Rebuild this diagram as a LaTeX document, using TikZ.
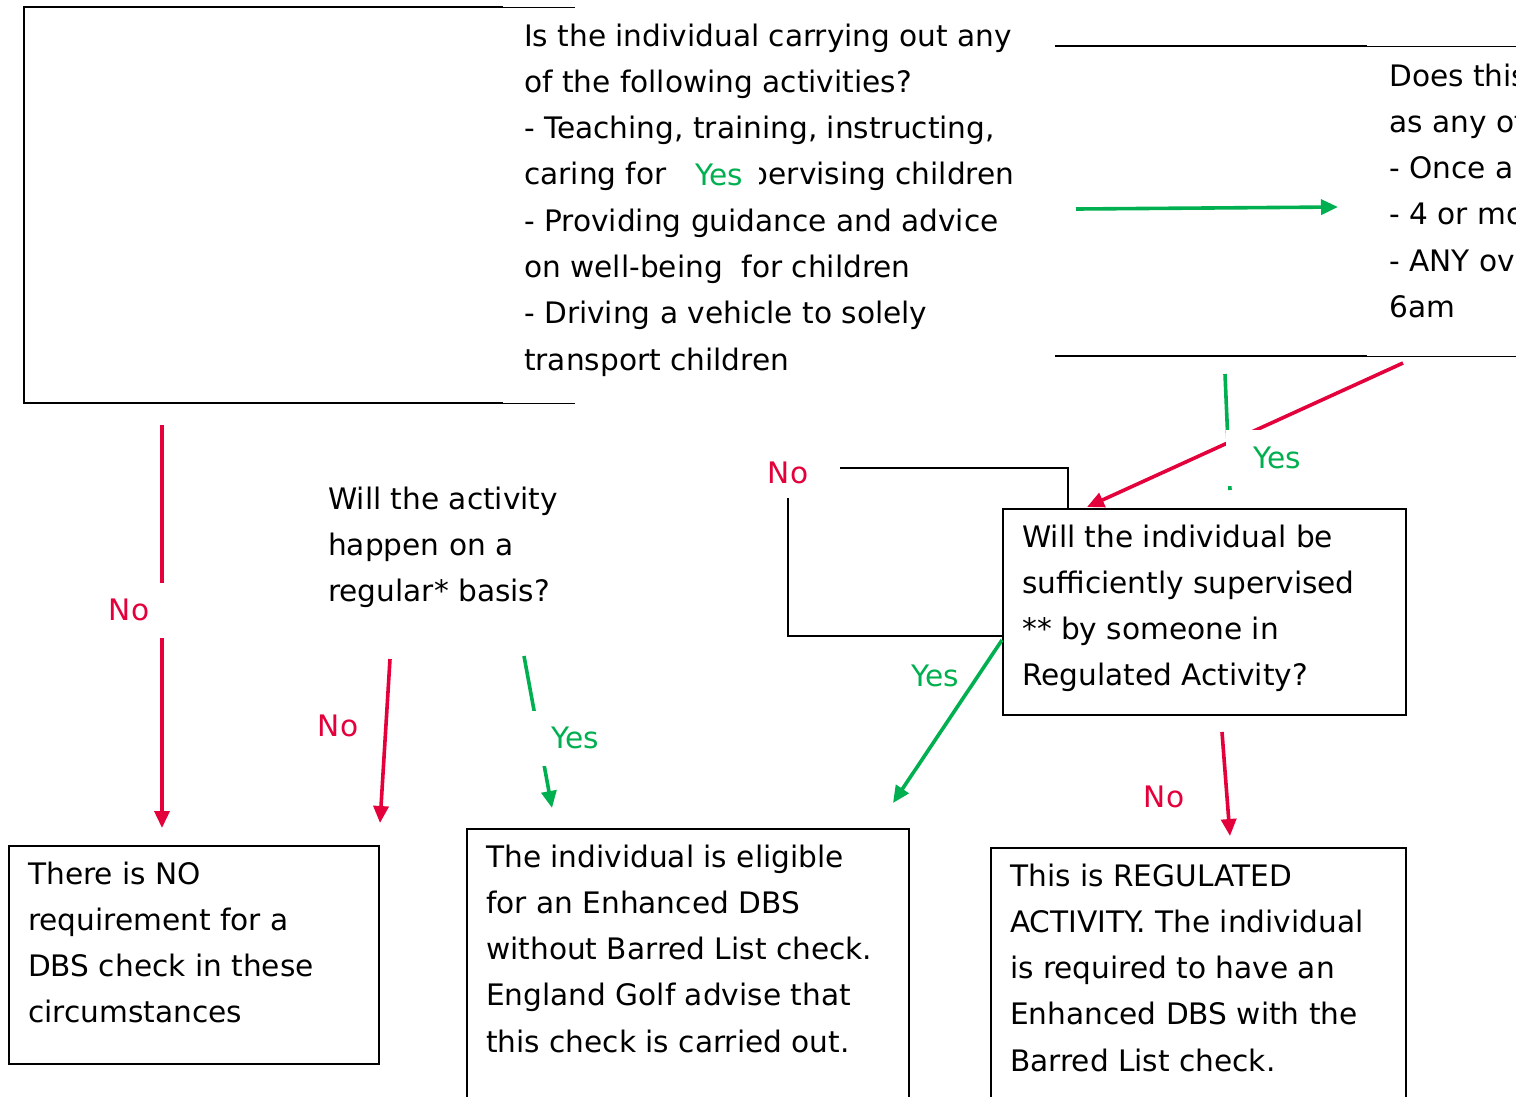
\documentclass[tikz,border=0pt]{standalone}
\usepackage{fontspec}
\setmainfont{DejaVu Sans}
\usetikzlibrary{arrows.meta}
\definecolor{gr}{RGB}{0,176,80}
\definecolor{rd}{RGB}{228,0,58}
\newcommand\mylines[1]{\begin{tabular}[t]{@{}l@{}}#1\end{tabular}}
\begin{document}
\begin{tikzpicture}[x=1pt,y=-1pt,
  txt/.style={anchor=base west,inner sep=0pt,font=\fontsize{29.6}{46.3}\selectfont},
  lbl/.style={inner sep=0pt,font=\fontsize{29.6}{35}\selectfont},
  wlbl/.style={lbl,fill=white},
  boxn/.style={draw=black,line width=1.5pt,fill=white,anchor=north west,inner sep=0pt},
  conn/.style={line width=3.6pt},
  tip/.style={-{Triangle[length=17pt,width=15pt]}}]
\useasboundingbox (0,0) rectangle (1516,1096);
% partial frames at the top
\draw[line width=1.8pt] (503,7) -- (24,7) -- (24,403) -- (503,403);
\draw[line width=0.9pt] (503,7) -- (575,7) (503,403) -- (575,403);
\draw[line width=1.8pt] (1055,46) -- (1367,46) (1055,356) -- (1367,356);
\draw[line width=0.9pt] (1367,46) -- (1516,46) (1367,356) -- (1516,356);
% question 1
\node[txt] (q1) at (524,46) {\mylines{Is the individual carrying out any\\ of the following activities?\\ - Teaching, training, instructing,\\ caring for or supervising children\\ - Providing guidance and advice\\ on well-being\ \ for children\\ - Driving a vehicle to solely\\ transport children}};
\node[wlbl,text=gr,minimum width=88pt,minimum height=36pt] (y1) at (715,175) {\hspace{8pt}Yes};
% question 2 (cut at the edge)
\node[txt] (q2) at (1389,86) {\mylines{Does this\\ as any of\\ - Once a\\ - 4 or mo\\ - ANY ov\\ 6am}};
\coordinate (g1s) at (1076,209);
\coordinate (g1e) at (1338,207);
\draw[gr,conn,tip] (g1s) -- (g1e);
% No from question 1
\coordinate (r1s) at (162,425);
\coordinate (r1e) at (162,828);
\draw[rd,conn,tip] (r1s) -- (r1e);
\node[wlbl,text=rd,minimum width=72pt,minimum height=55pt] (n1) at (129,610) {No};
% question regular
\node[txt] (q3) at (328,509) {\mylines{Will the activity\\ happen on a\\ regular* basis?}};
\coordinate (r2s) at (390,659);
\coordinate (r2e) at (380,823);
\draw[rd,conn,tip] (r2s) -- (r2e);
\node[lbl,text=rd] (n2) at (338,726) {No};
\coordinate (g2s) at (524,656);
\coordinate (g2e) at (552,808);
\draw[gr,conn,tip] (g2s) -- (g2e);
\node[wlbl,text=gr,minimum width=92pt,minimum height=55pt] (y2) at (575,738) {Yes};
% arrows into supervision box
\coordinate (g3s) at (1225,374);
\coordinate (g3e) at (1230,490);
\draw[gr,conn] (g3s) -- (g3e);
\coordinate (r3s) at (1403,363);
\coordinate (r3e) at (1087,507);
\draw[rd,conn,tip] (r3s) -- (r3e);
\node[wlbl,text=gr,minimum width=99pt,minimum height=56pt] (y3) at (1275.5,458) {\hspace{3pt}Yes};
% supervision box
\node[boxn,minimum width=403pt,minimum height=206pt] (b3) at (1002,508) {};
\draw[line width=2pt] (b3.west |- 0,636) -- (788,636) -- (788,468) -- (1068,468) -- (b3.north -| 1068,0);
\node[wlbl,text=rd,minimum width=104pt,minimum height=50pt] (n3) at (788,473) {No};
\node[txt] (t3) at (1022,547) {\mylines{Will the individual be\\ sufficiently supervised\\{}** by someone in\\ Regulated Activity?}};
\coordinate (g4s) at (1002,640);
\coordinate (g4e) at (893,803);
\draw[gr,conn,tip] (g4s) -- (g4e);
\node[lbl,text=gr] (y4) at (935,676) {Yes};
\coordinate (r4s) at (1222,732);
\coordinate (r4e) at (1230,836);
\draw[rd,conn,tip] (r4s) -- (r4e);
\node[lbl,text=rd] (n4) at (1164,797) {No};
% outcome boxes
\node[boxn,minimum width=370pt,minimum height=218pt] (b4) at (8,845) {};
\node[txt] (t4) at (28,884) {\mylines{There is NO\\ requirement for a\\ DBS check in these\\ circumstances}};
\node[boxn,minimum width=442pt,minimum height=300pt] (b5) at (466,828) {};
\node[txt] (t5) at (486,867) {\mylines{The individual is eligible\\ for an Enhanced DBS\\ without Barred List check.\\ England Golf advise that\\ this check is carried out.}};
\node[boxn,minimum width=415pt,minimum height=300pt] (b6) at (990,847) {};
\node[txt] (t6) at (1010,886) {\mylines{This is REGULATED\\ ACTIVITY. The individual\\ is required to have an\\ Enhanced DBS with the\\ Barred List check.}};
\end{tikzpicture}
\end{document}
